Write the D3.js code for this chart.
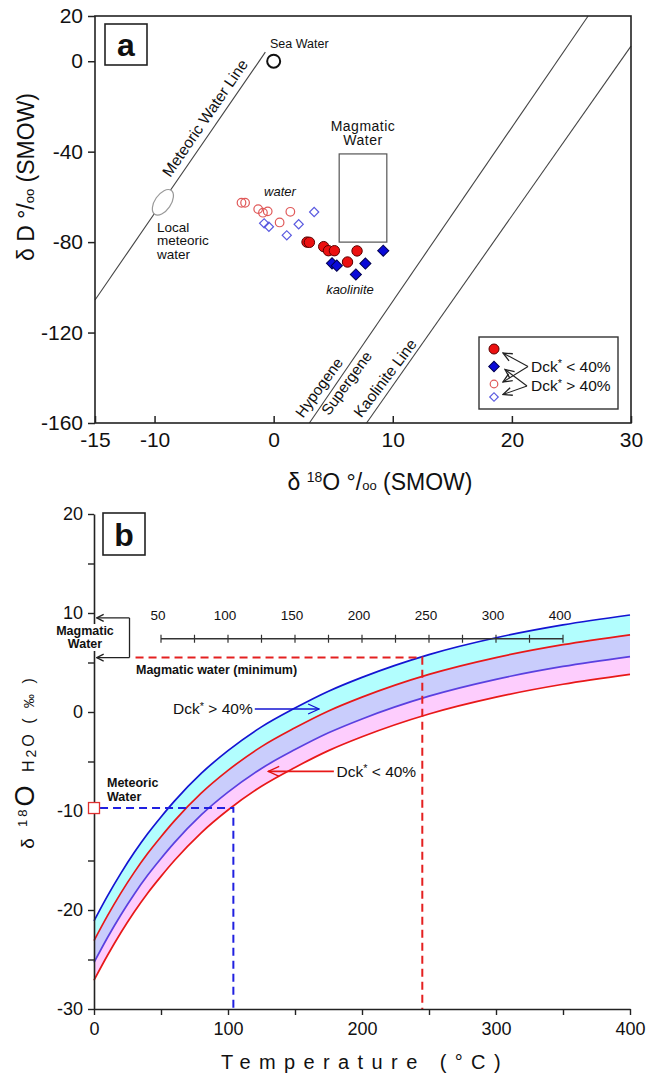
<!doctype html>
<html>
<head>
<meta charset="utf-8">
<script src="https://d3js.org/d3.v7.min.js"></script>
<style>
  body { margin: 0; background: #fff; }
  text { font-family: "Liberation Sans", Arial, sans-serif; fill: #111; }
</style>
</head>
<body>
<svg width="646" height="1075"></svg>
<script>
// ---------- panel a data (d18O, dD) ----------
var redFilled = [[2.8, -80], [3.0, -80.1], [4.2, -82], [4.6, -83.8], [5.1, -83.8], [7.0, -83.9], [6.2, -88.8]];
var blueFilled = [[4.9, -89.4], [5.3, -90.4], [7.7, -89.5], [6.9, -94.3], [9.2, -83.8]];
var redOpen = [[-2.7, -62.6], [-2.4, -62.6], [-1.3, -65.4], [-0.9, -67], [-0.5, -66.4], [0.5, -71.3], [1.4, -66.6]];
var blueOpen = [[-0.8, -71.7], [-0.4, -73.2], [1.1, -77], [2.1, -72.1], [3.4, -66.7]];
var seaWater = [0, 0];
var localMeteoric = [-9.3, -62.4];
var meteoricLine = [[-15, -105.6], [-0.7, 4]];
var hypoLine = [[3.0, -160], [26.4, 20]];
var kaolLine = [[7.8, -160], [30, 6.7]];
var magmaBoxX = [5.5, 9.5];
var magmaBoxY = [-41, -80];
var xTicksA = [-15, -10, 0, 10, 20, 30];
var yTicksA = [20, 0, -40, -80, -120, -160];

// ---------- panel b data (temperature, d18O water) ----------
var temps = [0, 10, 20, 30, 40, 50, 60, 80, 100, 125, 150, 175, 200, 250, 300, 350, 400];
var blueUpper = [-21.1, -18.6, -16.3, -14.2, -12.3, -10.6, -9.0, -6.2, -3.9, -1.5, 0.4, 2.1, 3.5, 5.8, 7.5, 8.8, 9.8];
var redUpper = [-23.1, -20.6, -18.3, -16.2, -14.3, -12.6, -11.0, -8.2, -5.9, -3.5, -1.6, 0.1, 1.5, 3.8, 5.5, 6.8, 7.8];
var blueLower = [-25.3, -22.8, -20.5, -18.4, -16.5, -14.8, -13.2, -10.4, -8.1, -5.7, -3.8, -2.1, -0.7, 1.6, 3.3, 4.6, 5.6];
var redLower = [-27.1, -24.6, -22.3, -20.2, -18.3, -16.6, -15.0, -12.2, -9.9, -7.5, -5.6, -3.9, -2.5, -0.2, 1.5, 2.8, 3.8];
var magmaRange = [5.5, 9.5];
var magmaTemp = 245;
var meteoricWater = -9.7;
var meteoricTemp = 104;
var scaleTicks = [50, 75, 100, 125, 150, 175, 200, 225, 250, 275, 300, 325, 350];
var scaleLabelPos = [50, 100, 150, 200, 250, 300, 350];
var scaleLabels = ["50", "100", "150", "200", "250", "300", "400"];
var xTicksB = [0, 50, 100, 150, 200, 250, 300, 350, 400];
var yTicksB = [20, 15, 10, 5, 0, -5, -10, -15, -20, -25, -30];

var svg = d3.select("svg");

var defs = svg.append("defs");
function arrowMarker(id, color, len, half) {
  defs.append("marker")
    .attr("id", id)
    .attr("markerUnits", "userSpaceOnUse")
    .attr("viewBox", (-len - 1) + " " + (-half - 1) + " " + (len + 2) + " " + (2 * half + 2))
    .attr("refX", 0).attr("refY", 0)
    .attr("markerWidth", len + 2).attr("markerHeight", 2 * half + 2)
    .attr("orient", "auto")
    .append("path")
    .attr("d", "M" + (-len) + "," + (-half) + " L0,0 L" + (-len) + "," + half)
    .attr("fill", "none").attr("stroke", color).attr("stroke-width", 1.3);
}
arrowMarker("arrBlack", "#222", 9, 4);
arrowMarker("arrBlue", "#1010d0", 11, 5);
arrowMarker("arrRed", "#e01010", 11, 5);
arrowMarker("arrSmall", "#222", 7, 3.5);

function plain(d) { return String(d); }

// =============== PANEL A ===============
var xa = d3.scaleLinear().domain([-15, 30]).range([95, 631]);
var ya = d3.scaleLinear().domain([-160, 20]).range([423, 16]);
var ga = svg.append("g");

var lineA = d3.line().x(function (d) { return xa(d[0]); }).y(function (d) { return ya(d[1]); });

[meteoricLine, hypoLine, kaolLine].forEach(function (l) {
  ga.append("path").attr("d", lineA(l))
    .attr("fill", "none").attr("stroke", "#444").attr("stroke-width", 1.1);
});

// local meteoric water ellipse
var angA = Math.atan2(ya(meteoricLine[1][1]) - ya(meteoricLine[0][1]), xa(meteoricLine[1][0]) - xa(meteoricLine[0][0])) * 180 / Math.PI;
ga.append("ellipse")
  .attr("transform", "translate(" + xa(localMeteoric[0]) + "," + ya(localMeteoric[1]) + ") rotate(" + angA + ")")
  .attr("rx", 14.5).attr("ry", 8)
  .attr("fill", "#fff").attr("stroke", "#999").attr("stroke-width", 1.2);

// magmatic water box
ga.append("rect")
  .attr("x", xa(magmaBoxX[0])).attr("y", ya(magmaBoxY[0]))
  .attr("width", xa(magmaBoxX[1]) - xa(magmaBoxX[0]))
  .attr("height", ya(magmaBoxY[1]) - ya(magmaBoxY[0]))
  .attr("fill", "none").attr("stroke", "#555").attr("stroke-width", 1.2);

// sea water
ga.append("circle").attr("cx", xa(seaWater[0])).attr("cy", ya(seaWater[1])).attr("r", 6.5)
  .attr("fill", "none").attr("stroke", "#111").attr("stroke-width", 2);

var diamond = d3.symbol().type(d3.symbolSquare);
function drawDiamonds(data, size, fill, stroke, sw) {
  ga.selectAll(null).data(data).enter().append("path")
    .attr("d", diamond.size(size)())
    .attr("transform", function (d) { return "translate(" + xa(d[0]) + "," + ya(d[1]) + ") rotate(45)"; })
    .attr("fill", fill).attr("stroke", stroke).attr("stroke-width", sw);
}
function drawCircles(data, r, fill, stroke, sw) {
  ga.selectAll(null).data(data).enter().append("circle")
    .attr("cx", function (d) { return xa(d[0]); })
    .attr("cy", function (d) { return ya(d[1]); })
    .attr("r", r).attr("fill", fill).attr("stroke", stroke).attr("stroke-width", sw);
}
drawCircles(redOpen, 4.3, "none", "#e05a5a", 1.2);
drawDiamonds(blueOpen, 42, "none", "#5a5ae0", 1.2);
drawCircles(redFilled, 5.2, "#ec1010", "#5a0000", 1);
drawDiamonds(blueFilled, 62, "#0a0ad8", "#000050", 1);

// frame
ga.append("rect").attr("x", 95).attr("y", 16).attr("width", 536).attr("height", 407)
  .attr("fill", "none").attr("stroke", "#222").attr("stroke-width", 1.6);

// axes
var axLeftA = ga.append("g").attr("transform", "translate(95,0)")
  .call(d3.axisLeft(ya).tickValues(yTicksA).tickSize(7).tickSizeOuter(0).tickPadding(5).tickFormat(plain));
var axBotA = ga.append("g").attr("transform", "translate(0,423)")
  .call(d3.axisBottom(xa).tickValues(xTicksA).tickSize(-7).tickSizeOuter(0).tickPadding(9).tickFormat(plain));
[axLeftA, axBotA].forEach(function (ax) {
  ax.select(".domain").remove();
  ax.selectAll("line").attr("stroke", "#222").attr("stroke-width", 1.5);
  ax.selectAll("text").attr("font-size", 21).attr("fill", "#111")
    .attr("font-family", "Liberation Sans, Arial, sans-serif");
});

// panel label a
ga.append("rect").attr("x", 105).attr("y", 24).attr("width", 42).attr("height", 41)
  .attr("fill", "#fff").attr("stroke", "#222").attr("stroke-width", 1.6);
ga.append("text").attr("x", 126).attr("y", 45).attr("dy", "0.35em").attr("text-anchor", "middle")
  .attr("font-size", 32).attr("font-weight", "bold").text("a");

// annotations panel a
function txt(g, x, y, s, size, opts) {
  var t = g.append("text").attr("x", x).attr("y", y).attr("dy", "0.35em")
    .attr("font-size", size).text(s);
  opts = opts || {};
  t.attr("text-anchor", opts.anchor || "middle");
  if (opts.italic) t.attr("font-style", "italic");
  if (opts.bold) t.attr("font-weight", "bold");
  if (opts.rotate) t.attr("transform", "rotate(" + opts.rotate + "," + x + "," + y + ")");
  return t;
}
txt(ga, 270, 44, "Sea Water", 12.5, { anchor: "start" });
txt(ga, 205, 118, "Meteoric Water Line", 15.5, { rotate: angA });
txt(ga, 157, 227, "Local", 13.5, { anchor: "start" });
txt(ga, 157, 240.5, "meteoric", 13.5, { anchor: "start" });
txt(ga, 157, 254, "water", 13.5, { anchor: "start" });
txt(ga, (xa(magmaBoxX[0]) + xa(magmaBoxX[1])) / 2, 126, "Magmatic", 14).attr("letter-spacing", 0.5);
txt(ga, (xa(magmaBoxX[0]) + xa(magmaBoxX[1])) / 2, 140.5, "Water", 14).attr("letter-spacing", 0.5);
txt(ga, 280, 191.5, "water", 13, { italic: true });
txt(ga, 350, 289, "kaolinite", 13, { italic: true });
txt(ga, 319, 387.5, "Hypogene", 15.2, { rotate: -54 });
txt(ga, 346.5, 383, "Supergene", 15.2, { rotate: -54 });
txt(ga, 385, 378, "Kaolinite Line", 15.5, { rotate: -53 });

// legend
var lg = ga.append("g");
lg.append("rect").attr("x", 479).attr("y", 337).attr("width", 139).attr("height", 72)
  .attr("fill", "#fff").attr("stroke", "#333").attr("stroke-width", 1.4);
lg.append("circle").attr("cx", 494).attr("cy", 349).attr("r", 5).attr("fill", "#ec1010").attr("stroke", "#5a0000");
lg.append("path").attr("d", diamond.size(56)()).attr("transform", "translate(494,366.5) rotate(45)")
  .attr("fill", "#0a0ad8").attr("stroke", "#000050");
lg.append("circle").attr("cx", 494).attr("cy", 384).attr("r", 3.8).attr("fill", "none").attr("stroke", "#e05a5a").attr("stroke-width", 1.2);
lg.append("path").attr("d", diamond.size(36)()).attr("transform", "translate(494,397) rotate(45)")
  .attr("fill", "none").attr("stroke", "#5a5ae0").attr("stroke-width", 1.2);
var legArrows = [[[528, 366.5], [503, 353]], [[528, 366.5], [503, 382]], [[527, 386], [505, 369.5]], [[527, 386], [503, 394.5]]];
legArrows.forEach(function (a) {
  lg.append("line").attr("x1", a[0][0]).attr("y1", a[0][1]).attr("x2", a[1][0]).attr("y2", a[1][1])
    .attr("stroke", "#222").attr("stroke-width", 1.1).attr("marker-end", "url(#arrBlack)");
});
function dckLabel(g, x, y, cmp, size) {
  var t = g.append("text").attr("x", x).attr("y", y).attr("dy", "0.35em").attr("font-size", size);
  t.append("tspan").text("Dck");
  t.append("tspan").attr("font-size", size * 0.7).attr("dy", -size * 0.3).text("*");
  t.append("tspan").attr("dy", size * 0.3).text(" " + cmp + " 40%");
  return t;
}
dckLabel(lg, 531, 366.5, "<", 15.5);
dckLabel(lg, 531, 386, ">", 15.5);

// axis titles panel a
var xt = ga.append("text").attr("x", 380).attr("y", 482).attr("dy", "0.35em").attr("text-anchor", "middle").attr("font-size", 23);
xt.append("tspan").text("δ ");
xt.append("tspan").attr("font-size", 14).attr("dy", -8).text("18");
xt.append("tspan").attr("dy", 8).text("O °/");
xt.append("tspan").attr("font-size", 13).text("oo");
xt.append("tspan").text(" (SMOW)");

var yt = ga.append("text").attr("transform", "translate(26,177) rotate(-90)").attr("dy", "0.35em")
  .attr("text-anchor", "middle").attr("font-size", 23);
yt.append("tspan").text("δ D °/");
yt.append("tspan").attr("font-size", 13).text("oo");
yt.append("tspan").text(" (SMOW)");

// =============== PANEL B ===============
var xb = d3.scaleLinear().domain([0, 400]).range([94, 630]);
var yb = d3.scaleLinear().domain([-30, 20]).range([1009, 514]);
var gb = svg.append("g");

var rows = temps.map(function (t, i) {
  return { t: t, c1: blueUpper[i], c2: redUpper[i], c3: blueLower[i], c4: redLower[i] };
});
function band(a, b) {
  return d3.area().curve(d3.curveMonotoneX)
    .x(function (d) { return xb(d.t); })
    .y0(function (d) { return yb(d[a]); })
    .y1(function (d) { return yb(d[b]); });
}
gb.append("path").datum(rows).attr("d", band("c2", "c1")).attr("fill", "#b2fefe");
gb.append("path").datum(rows).attr("d", band("c3", "c2")).attr("fill", "#c9cdfc");
gb.append("path").datum(rows).attr("d", band("c4", "c3")).attr("fill", "#fdcdfd");
function curveLine(key) {
  return d3.line().curve(d3.curveMonotoneX)
    .x(function (d) { return xb(d.t); })
    .y(function (d) { return yb(d[key]); });
}
[["c1", "#1414d2"], ["c2", "#e81818"], ["c3", "#5a40e0"], ["c4", "#e81818"]].forEach(function (c) {
  gb.append("path").datum(rows).attr("d", curveLine(c[0]))
    .attr("fill", "none").attr("stroke", c[1]).attr("stroke-width", 1.7);
});

// dashed guides
gb.append("path")
  .attr("d", "M" + xb(31) + "," + yb(magmaRange[0]) + " H" + xb(magmaTemp) + " V" + yb(-30))
  .attr("fill", "none").attr("stroke", "#e42020").attr("stroke-width", 2).attr("stroke-dasharray", "8,5");
gb.append("path")
  .attr("d", "M" + xb(4.5) + "," + yb(meteoricWater) + " H" + xb(meteoricTemp) + " V" + yb(-30))
  .attr("fill", "none").attr("stroke", "#2020e0").attr("stroke-width", 2).attr("stroke-dasharray", "8,5");

// axes panel b
var axLeftB = gb.append("g").attr("transform", "translate(94,0)")
  .call(d3.axisLeft(yb).tickValues(yTicksB).tickSize(6).tickSizeOuter(0).tickPadding(5)
    .tickFormat(function (d) { return d % 10 === 0 ? String(d) : ""; }));
var axBotB = gb.append("g").attr("transform", "translate(0,1009)")
  .call(d3.axisBottom(xb).tickValues(xTicksB).tickSize(6).tickSizeOuter(0).tickPadding(7)
    .tickFormat(function (d) { return d % 100 === 0 ? String(d) : ""; }));
[axLeftB, axBotB].forEach(function (ax) {
  ax.select(".domain").attr("stroke", "#222").attr("stroke-width", 1.6);
  ax.selectAll("line").attr("stroke", "#222").attr("stroke-width", 1.4);
  ax.selectAll("text").attr("font-size", 18).attr("fill", "#111")
    .attr("font-family", "Liberation Sans, Arial, sans-serif");
});

// meteoric water square
gb.append("rect").attr("x", xb(0) - 5.5).attr("y", yb(meteoricWater) - 5.5).attr("width", 11).attr("height", 11)
  .attr("fill", "#fff").attr("stroke", "#e03030").attr("stroke-width", 1.3);

// magmatic water bracket
var bx = xb(26.5);
gb.append("path").attr("d", "M" + bx + "," + yb(magmaRange[1]) + " V" + yb(magmaRange[0]))
  .attr("fill", "none").attr("stroke", "#222").attr("stroke-width", 1.3);
magmaRange.forEach(function (v) {
  gb.append("line").attr("x1", bx).attr("y1", yb(v)).attr("x2", xb(2)).attr("y2", yb(v))
    .attr("stroke", "#222").attr("stroke-width", 1.3).attr("marker-end", "url(#arrSmall)");
});
gb.append("rect").attr("x", 52).attr("y", 624).attr("width", 66).attr("height", 27).attr("fill", "#fff");
txt(gb, 85, 631, "Magmatic", 12.5, { bold: true });
txt(gb, 85, 644, "Water", 12.5, { bold: true });
txt(gb, 136, 669.5, "Magmatic water (minimum)", 12.5, { bold: true, anchor: "start" });
txt(gb, 107, 782.5, "Meteoric", 12.5, { bold: true, anchor: "start" });
txt(gb, 107, 796.5, "Water", 12.5, { bold: true, anchor: "start" });

// temperature scale bar
var sbY = yb(7.4);
gb.append("line").attr("x1", xb(scaleTicks[0])).attr("x2", xb(scaleTicks[scaleTicks.length - 1]))
  .attr("y1", sbY).attr("y2", sbY).attr("stroke", "#333").attr("stroke-width", 1.3);
gb.selectAll(null).data(scaleTicks).enter().append("line")
  .attr("x1", function (d) { return xb(d); }).attr("x2", function (d) { return xb(d); })
  .attr("y1", sbY - 4).attr("y2", sbY + 4).attr("stroke", "#333").attr("stroke-width", 1.2);
gb.selectAll(null).data(scaleLabelPos).enter().append("text")
  .attr("x", function (d) { return xb(d) - 3; }).attr("y", yb(9.8)).attr("dy", "0.35em")
  .attr("text-anchor", "middle").attr("font-size", 13.5)
  .text(function (d, i) { return scaleLabels[i]; });

// Dck labels and arrows
dckLabel(gb, xb(59), yb(0.3), ">", 15.5);
gb.append("line").attr("x1", xb(120)).attr("y1", yb(0.3)).attr("x2", xb(168)).attr("y2", yb(0.3))
  .attr("stroke", "#1414d2").attr("stroke-width", 1.6).attr("marker-end", "url(#arrBlue)");
dckLabel(gb, xb(181), yb(-6.0), "<", 15.5);
gb.append("line").attr("x1", xb(179)).attr("y1", yb(-6.0)).attr("x2", xb(130)).attr("y2", yb(-6.0))
  .attr("stroke", "#e81818").attr("stroke-width", 1.6).attr("marker-end", "url(#arrRed)");

// panel label b
gb.append("rect").attr("x", 103).attr("y", 513).attr("width", 42).attr("height", 42)
  .attr("fill", "#fff").attr("stroke", "#222").attr("stroke-width", 1.6);
gb.append("text").attr("x", 124).attr("y", 535).attr("dy", "0.35em").attr("text-anchor", "middle")
  .attr("font-size", 32).attr("font-weight", "bold").text("b");

// axis titles panel b
txt(gb, 365, 1062, "Temperature (°C)", 20).attr("letter-spacing", 8.4);
var ytb = gb.append("text").attr("transform", "translate(28,762) rotate(-90)").attr("dy", "0.35em")
  .attr("text-anchor", "middle").attr("letter-spacing", 3);
ytb.append("tspan").attr("font-size", 19).text("δ ");
ytb.append("tspan").attr("font-size", 13).attr("dy", -7).text("18");
ytb.append("tspan").attr("font-size", 27).attr("dy", 7).text("O ");
ytb.append("tspan").attr("font-size", 16).text("H");
ytb.append("tspan").attr("font-size", 14).attr("dy", 2).text("2");
ytb.append("tspan").attr("font-size", 16).attr("dy", -2).text("O  ( ");
ytb.append("tspan").attr("font-size", 14).text("‰");
ytb.append("tspan").attr("font-size", 16).text(" )");
</script>
</body>
</html>
